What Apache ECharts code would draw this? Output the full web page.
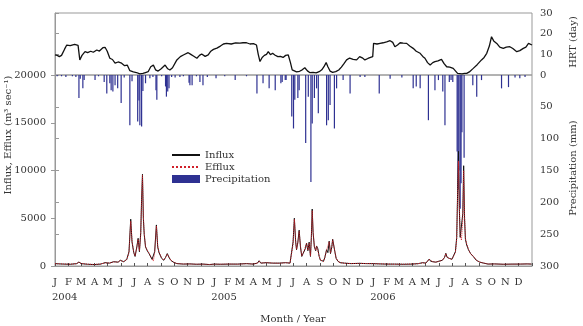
<!DOCTYPE html>
<html>
<head>
<meta charset="utf-8">
<script src="https://cdn.jsdelivr.net/npm/echarts@6/dist/echarts.min.js"></script>
<style>
  html, body { margin: 0; padding: 0; background: #fff; }
  #main { width: 583px; height: 326px; }
</style>
</head>
<body>
<div id="main"></div>
<script>
// x values are days counted from 1 Jan 2004
var monthLetters = ['J', 'F', 'M', 'A', 'M', 'J', 'J', 'A', 'S', 'O', 'N', 'D'];
var years = [2004, 2005, 2006];

// Influx (m3/s)
var influx = [
  [0, 250], [10, 220], [20, 200], [35, 180], [50, 250], [55, 420], [60, 250], [75, 180], [90, 150],
  [105, 200], [115, 350], [125, 300], [135, 450], [145, 400], [150, 600], [158, 450], [165, 700],
  [170, 1500], [174, 4900], [177, 2500], [181, 1400], [184, 1000], [188, 2000], [191, 2900],
  [194, 1500], [197, 3500], [199, 7000], [201, 9600], [203, 5000], [205, 3300], [208, 2000],
  [212, 1600], [216, 1300], [220, 1200], [223, 700], [226, 500], [229, 1500], [233, 4300],
  [236, 2000], [239, 1400], [242, 1500], [245, 800], [250, 600], [254, 900], [258, 1300],
  [262, 900], [266, 600], [272, 400], [280, 250], [295, 200], [310, 220], [325, 180], [340, 200],
  [355, 150], [366, 200], [380, 180], [400, 200], [420, 200], [440, 250], [455, 200], [465, 300],
  [469, 550], [473, 300], [485, 350], [500, 300], [515, 300], [530, 350], [540, 300], [544, 500],
  [547, 2500], [550, 5000], [553, 2500], [555, 1700], [558, 2500], [561, 3750], [564, 2000],
  [567, 1000], [570, 1300], [572, 1500], [575, 1800], [578, 2400], [581, 1600], [584, 2500],
  [587, 1000], [589, 3000], [591, 5960], [593, 3500], [596, 2000], [599, 1600], [601, 2100],
  [604, 1800], [607, 1000], [610, 600], [613, 400], [617, 500], [620, 900], [624, 1700],
  [627, 1400], [630, 2600], [633, 1300], [636, 2000], [638, 2800], [641, 2900], [643, 1500],
  [646, 800], [650, 500], [655, 350], [665, 300], [680, 250], [700, 280], [715, 250], [731, 250],
  [745, 220], [760, 200], [780, 200], [800, 180], [820, 200], [835, 250], [845, 350], [852, 300],
  [856, 400], [860, 730], [863, 500], [868, 450], [875, 400], [882, 500], [890, 600], [895, 900],
  [898, 1330], [901, 900], [906, 800], [912, 700], [916, 650], [920, 1500], [923, 3000],
  [925, 7500], [927, 12000], [929, 6000], [931, 3000], [934, 2800], [937, 5500], [939, 10500],
  [941, 5000], [943, 2800], [946, 2200], [950, 1700], [955, 1300], [961, 1000], [968, 600],
  [976, 400], [985, 300], [995, 200], [1010, 220], [1030, 180], [1050, 200], [1070, 200],
  [1085, 220], [1095, 200]
];

// Efflux (m3/s)
var efflux = [
  [0, 240], [10, 230], [20, 210], [35, 190], [50, 240], [55, 400], [60, 260], [75, 190], [90, 160],
  [105, 210], [115, 330], [125, 310], [135, 430], [145, 410], [150, 580], [158, 460], [165, 680],
  [170, 1400], [174, 4700], [177, 2600], [181, 1450], [184, 1050], [188, 1900], [191, 2800],
  [194, 1600], [197, 3300], [199, 6800], [201, 9500], [203, 5200], [205, 3400], [208, 2050],
  [212, 1650], [216, 1350], [220, 1150], [223, 750], [226, 520], [229, 1400], [233, 4200],
  [236, 2100], [239, 1450], [242, 1450], [245, 850], [250, 620], [254, 880], [258, 1250],
  [262, 920], [266, 620], [272, 410], [280, 260], [295, 210], [310, 210], [325, 190], [340, 190],
  [355, 160], [366, 190], [380, 190], [400, 210], [420, 190], [440, 240], [455, 210], [465, 290],
  [469, 520], [473, 310], [485, 340], [500, 310], [515, 290], [530, 340], [540, 310], [544, 480],
  [547, 2300], [550, 4900], [553, 2600], [555, 1750], [558, 2400], [561, 3650], [564, 2100],
  [567, 1050], [570, 1250], [572, 1550], [575, 1750], [578, 2350], [581, 1650], [584, 2400],
  [587, 1050], [589, 2900], [591, 5800], [593, 3600], [596, 2050], [599, 1650], [601, 2050],
  [604, 1850], [607, 1050], [610, 620], [613, 420], [617, 480], [620, 880], [624, 1650],
  [627, 1450], [630, 2550], [633, 1350], [636, 1950], [638, 2750], [641, 2850], [643, 1550],
  [646, 820], [650, 520], [655, 360], [665, 290], [680, 260], [700, 270], [715, 260], [731, 240],
  [745, 230], [760, 210], [780, 190], [800, 190], [820, 210], [835, 240], [845, 340], [852, 310],
  [856, 390], [860, 700], [863, 520], [868, 440], [875, 410], [882, 490], [890, 610], [895, 880],
  [898, 1300], [901, 920], [906, 790], [912, 710], [916, 660], [920, 1400], [923, 2800],
  [925, 7000], [927, 11000], [929, 6500], [931, 3200], [934, 2700], [937, 5000], [939, 10000],
  [941, 5400], [943, 2900], [946, 2300], [950, 1750], [955, 1250], [961, 1050], [968, 620],
  [976, 410], [985, 310], [995, 210], [1010, 210], [1030, 190], [1050, 190], [1070, 210],
  [1085, 210], [1095, 210]
];

// Hydraulic retention time (day)
var hrt = [
  [0, 9.7], [5, 9.5], [10, 8.9], [15, 9.5], [22, 12.5], [27, 14.5], [35, 14.2], [45, 14.8],
  [53, 14.3], [57, 7.3], [62, 9.5], [69, 11.3], [75, 10.8], [82, 11.5], [88, 11.0], [96, 12.1],
  [102, 11.6], [110, 13.2], [115, 13.4], [120, 11.5], [126, 8.1], [132, 7.5], [138, 5.7],
  [145, 6.3], [153, 5.7], [160, 4.5], [166, 4.8], [172, 2.1], [180, 1.5], [187, 1.2], [195, 0.5],
  [202, 0.8], [208, 1.2], [214, 1.6], [220, 4.0], [226, 4.8], [231, 2.5], [237, 1.9], [244, 3.0],
  [253, 4.8], [259, 3.0], [264, 2.4], [270, 3.5], [280, 7.3], [288, 8.9], [296, 9.8], [306, 10.8],
  [312, 10.0], [318, 9.2], [326, 8.1], [332, 9.5], [337, 10.2], [345, 9.0], [352, 9.7],
  [358, 11.5], [364, 12.4], [372, 13.0], [380, 14.0], [387, 15.0], [394, 15.3], [405, 15.0],
  [415, 15.5], [425, 15.4], [432, 15.6], [440, 15.6], [448, 15.0], [456, 15.2], [463, 14.5],
  [467, 10.0], [471, 6.5], [476, 8.5], [481, 9.5], [486, 10.0], [490, 11.3], [495, 9.8],
  [500, 10.5], [505, 9.7], [512, 8.9], [518, 9.0], [524, 8.5], [530, 9.5], [536, 9.7], [541, 6.0],
  [545, 2.5], [548, 1.6], [555, 1.5], [562, 1.8], [568, 2.5], [574, 3.5], [580, 2.0], [586, 1.1],
  [593, 1.3], [600, 1.0], [607, 1.6], [613, 2.5], [618, 4.0], [623, 6.0], [627, 4.0], [632, 1.9],
  [638, 1.3], [645, 1.6], [652, 2.4], [658, 3.8], [664, 5.5], [670, 7.3], [677, 8.2], [685, 7.6],
  [693, 7.3], [700, 8.9], [706, 8.3], [712, 7.3], [719, 8.0], [725, 8.5], [730, 8.9], [732, 15.3],
  [740, 15.0], [747, 15.3], [754, 15.6], [762, 16.0], [770, 16.6], [776, 15.8], [781, 13.7],
  [787, 14.5], [793, 15.6], [800, 15.4], [808, 15.3], [815, 14.0], [823, 12.9], [830, 11.5],
  [839, 10.5], [845, 9.0], [850, 8.1], [856, 6.0], [862, 4.8], [868, 6.0], [873, 6.5], [880, 6.8],
  [888, 7.6], [894, 5.5], [900, 4.0], [907, 3.8], [915, 3.2], [920, 2.0], [925, 0.8], [929, 0.0],
  [935, 0.5], [941, 0.8], [946, 0.8], [952, 1.5], [961, 3.2], [970, 5.0], [980, 7.3], [986, 8.5],
  [992, 10.5], [998, 14.0], [1003, 18.5], [1008, 16.5], [1015, 15.3], [1022, 13.5], [1030, 12.9],
  [1037, 13.5], [1045, 13.7], [1052, 12.8], [1061, 11.3], [1068, 11.8], [1076, 12.9], [1082, 13.5],
  [1088, 15.3], [1092, 14.5], [1096, 14.5]
];

// Daily precipitation (mm)
var precipitation = [
  [5, 2], [15, 2], [25, 3], [40, 2], [48, 3], [55, 36], [58, 6], [64, 21], [67, 8], [92, 8],
  [100, 2], [113, 11], [119, 29], [126, 13], [129, 24], [133, 26], [138, 16], [144, 21], [152, 44],
  [159, 4], [172, 79], [177, 10], [190, 73], [193, 40], [195, 79], [199, 81], [202, 25], [208, 13],
  [218, 5], [225, 3], [232, 24], [234, 39], [245, 2], [254, 18], [256, 34], [259, 26], [262, 21],
  [268, 3], [276, 4], [287, 3], [295, 2], [308, 12], [310, 16], [315, 16], [325, 2], [333, 11],
  [340, 16], [350, 3], [370, 5], [390, 2], [414, 8], [440, 2], [464, 29], [478, 13], [492, 21],
  [506, 24], [519, 13], [522, 11], [529, 8], [531, 8], [544, 65], [548, 84], [551, 39], [558, 36],
  [561, 24], [576, 107], [582, 34], [588, 168], [591, 76], [596, 36], [601, 21], [605, 60],
  [624, 79], [628, 71], [632, 47], [642, 84], [647, 21], [662, 8], [678, 29], [701, 3], [712, 3],
  [745, 29], [770, 6], [797, 4], [823, 21], [830, 18], [839, 21], [858, 71], [873, 24], [881, 8],
  [891, 26], [896, 79], [906, 11], [910, 8], [914, 11], [924, 120], [926, 180], [928, 150],
  [931, 210], [933, 170], [935, 90], [940, 130], [960, 16], [969, 34], [980, 8], [1026, 21],
  [1042, 19], [1057, 4], [1068, 5], [1080, 3]
];

var start = Date.UTC(2004, 0, 1);
var totalDays = (Date.UTC(2007, 0, 1) - start) / 864e5;
var monthStarts = [];
for (var i = 0; i <= 36; i++) monthStarts.push((Date.UTC(2004, i, 1) - start) / 864e5);
var yearStarts = years.map(function (y) { return (Date.UTC(y, 0, 1) - start) / 864e5; });
function monthOf(d) { return new Date(start + d * 864e5).getUTCMonth(); }
function yearOf(d) { return new Date(start + d * 864e5).getUTCFullYear(); }

var font = 'DejaVu Serif';
var gray = '#999';
var txt = '#333';
var hidden = { color: 'rgba(0,0,0,0)', borderColor: 'rgba(0,0,0,0)', borderWidth: 0 };

var chart = echarts.init(document.getElementById('main'));
var option = {
  animation: false,
  textStyle: { fontFamily: font },
  grid: [
    { left: 55, right: 51, top: 13, height: 62, show: true, borderColor: gray, borderWidth: 1 },
    { left: 55, right: 51, top: 75, height: 191, show: true, borderColor: gray, borderWidth: 1 }
  ],
  legend: {
    orient: 'vertical',
    left: 166,
    top: 145,
    itemWidth: 28,
    itemHeight: 8,
    itemGap: 2,
    textStyle: { fontFamily: font, fontSize: 10, color: txt },
    data: [
      { name: 'Influx', itemStyle: hidden },
      { name: 'Efflux', itemStyle: hidden },
      { name: 'Precipitation', icon: 'rect' }
    ]
  },
  xAxis: [
    { gridIndex: 0, type: 'value', min: 0, max: totalDays, show: false },
    {
      gridIndex: 1, type: 'value', min: 0, max: totalDays,
      axisLine: { show: true, lineStyle: { color: gray } },
      axisTick: { show: true, inside: true, length: 3, customValues: monthStarts, lineStyle: { color: '#555' } },
      splitLine: { show: false },
      axisLabel: {
        customValues: monthStarts.slice(0, 36),
        margin: 11, fontSize: 10, color: txt, fontFamily: font,
        formatter: function (v) { return monthLetters[monthOf(v)]; }
      }
    },
    {
      gridIndex: 1, type: 'value', min: 0, max: totalDays, position: 'bottom', offset: 15,
      axisLine: { show: false }, axisTick: { show: false }, splitLine: { show: false },
      axisLabel: {
        customValues: yearStarts, align: 'left', margin: 11, fontSize: 10, color: txt, fontFamily: font,
        padding: [0, 0, 0, -3],
        formatter: function (v) { return String(yearOf(v)); }
      }
    }
  ],
  yAxis: [
    {
      gridIndex: 0, type: 'value', position: 'right', min: 0, max: 30, interval: 10,
      axisLine: { show: true, lineStyle: { color: gray } },
      axisTick: { show: true, length: 4, lineStyle: { color: gray } },
      splitLine: { show: false },
      axisLabel: { margin: 8, fontSize: 10, color: txt, fontFamily: font }
    },
    {
      gridIndex: 1, type: 'value', position: 'left', min: 0, max: 20000, interval: 5000,
      axisLine: { show: true, lineStyle: { color: gray } },
      axisTick: { show: true, length: 4, lineStyle: { color: gray } },
      splitLine: { show: false },
      axisLabel: {
        margin: 9, fontSize: 10, color: txt, fontFamily: font,
        formatter: function (v) { return String(v); }
      }
    },
    {
      gridIndex: 1, type: 'value', position: 'right', min: 0, max: 300, interval: 50, inverse: true,
      axisLine: { show: true, lineStyle: { color: gray } },
      axisTick: { show: true, length: 4, lineStyle: { color: gray } },
      splitLine: { show: false },
      axisLabel: {
        margin: 8, fontSize: 10, color: txt, fontFamily: font,
        formatter: function (v) { return v === 0 ? '' : String(v); }
      }
    }
  ],
  graphic: [
    { type: 'text', x: 8, y: 135, rotation: Math.PI / 2,
      style: { text: 'Influx, Efflux (m³ sec⁻¹)', font: '10px "DejaVu Serif"', fill: txt, align: 'center', verticalAlign: 'middle' } },
    { type: 'text', x: 573, y: 42, rotation: Math.PI / 2,
      style: { text: 'HRT (day)', font: '10px "DejaVu Serif"', fill: txt, align: 'center', verticalAlign: 'middle' } },
    { type: 'text', x: 573, y: 168, rotation: Math.PI / 2,
      style: { text: 'Precipitation (mm)', font: '10px "DejaVu Serif"', fill: txt, align: 'center', verticalAlign: 'middle' } },
    { type: 'text', x: 293, y: 319,
      style: { text: 'Month / Year', font: '10px "DejaVu Serif"', fill: txt, align: 'center', verticalAlign: 'middle' } }
  ],
  series: [
    {
      name: 'Precipitation', type: 'bar', xAxisIndex: 1, yAxisIndex: 2,
      barWidth: 1.2, itemStyle: { color: '#2e3192' },
      data: precipitation
    },
    {
      name: 'HRT', type: 'line', xAxisIndex: 0, yAxisIndex: 0, symbol: 'none',
      lineStyle: { color: '#111', width: 1.3 }, itemStyle: { color: '#111' },
      data: hrt
    },
    {
      name: 'Influx', type: 'line', xAxisIndex: 1, yAxisIndex: 1, symbol: 'none',
      lineStyle: { color: '#111', width: 1 }, itemStyle: { color: '#111' },
      data: influx
    },
    {
      name: 'Efflux', type: 'line', xAxisIndex: 1, yAxisIndex: 1, symbol: 'none',
      lineStyle: { color: '#d0202a', width: 1, type: 'dotted' }, itemStyle: { color: '#d0202a' },
      data: efflux
    }
  ]
};
chart.setOption(option);
</script>
</body>
</html>
